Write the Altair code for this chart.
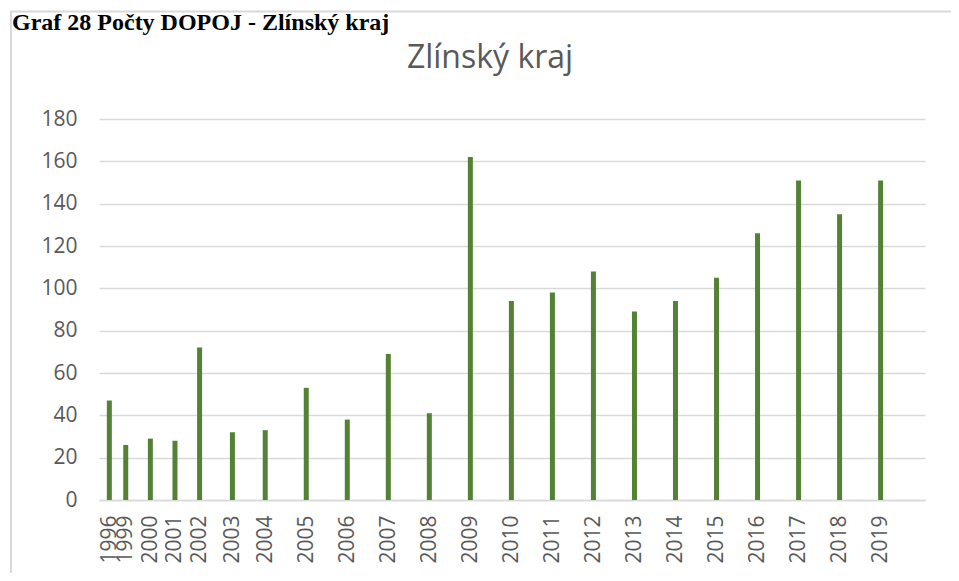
import altair as alt
import pandas as pd

# Data
years = ["1996", "1999", "2000", "2001", "2002", "2003", "2004", "2005", "2006",
         "2007", "2008", "2009", "2010", "2011", "2012", "2013", "2014", "2015",
         "2016", "2017", "2018", "2019"]
counts = [47, 26, 29, 28, 72, 32, 33, 53, 38, 69, 41, 162, 94, 98, 108, 89,
          94, 105, 126, 151, 135, 151]
# position of each category on the original (irregular) axis
slots = [0.2, 0.6, 1.2, 1.8, 2.4, 3.2, 4, 5, 6, 7, 8, 9, 10, 11, 12, 13, 14,
         15, 16, 17, 18, 19]
y_ticks = [0, 20, 40, 60, 80, 100, 120, 140, 160, 180]
chart_title = "Zlínský kraj"
doc_caption = "Graf 28 Počty DOPOJ - Zlínský kraj"

df = pd.DataFrame({"year": years, "count": counts, "slot": slots})

GRAY = "#595959"
GRID = "#d9d9d9"
FONT = "Open Sans"

label_expr = ("[" + ",".join("'" + y + "'" for y in years) + "][indexof(["
              + ",".join(str(s) for s in slots) + "], datum.value)]")

bars = alt.Chart(df).mark_bar(size=5, color="#548235").encode(
    x=alt.X("slot:Q",
            scale=alt.Scale(domain=[0.07, 19.96], nice=False, zero=False),
            axis=alt.Axis(values=slots, labelExpr=label_expr, labelAngle=-90,
                          labelOverlap=False, labelFlush=False, labelBound=False,
                          grid=False, ticks=False, domain=True, domainColor=GRID,
                          domainWidth=1.5, labelPadding=15, labelFont=FONT,
                          labelFontSize=21, labelColor=GRAY, title=None)),
    y=alt.Y("count:Q",
            scale=alt.Scale(domain=[0, 180], nice=False),
            axis=alt.Axis(values=y_ticks, grid=True, gridColor=GRID, gridWidth=1.5,
                          domain=False, ticks=False, labelPadding=22,
                          labelFont=FONT, labelFontSize=21, labelColor=GRAY,
                          title=None)),
)

frame = alt.Chart(pd.DataFrame({"k": [0]})).mark_rect(
    fill=None, stroke=GRID, strokeWidth=2
).encode(x=alt.value(-88), x2=alt.value(880), y=alt.value(-107.5), y2=alt.value(600))

title = alt.Chart(pd.DataFrame({"t": [chart_title]})).mark_text(
    font=FONT, fontSize=32, color=GRAY, align="center", baseline="alphabetic"
).encode(text="t:N", x=alt.value(391), y=alt.value(-51))

caption = alt.Chart(pd.DataFrame({"t": [doc_caption]})).mark_text(
    font="Liberation Serif", fontSize=24, fontWeight="bold", color="#000000",
    align="left", baseline="alphabetic"
).encode(text="t:N", x=alt.value(-87), y=alt.value(-89))

chart = alt.layer(frame, bars, title, caption).properties(
    width=826, height=381,
    autosize=alt.AutoSizeParams(type="none"),
    padding={"left": 91, "top": 111, "right": 26, "bottom": 73},
).configure_view(stroke=None)

chart.save("out.html", embed_options={"renderer": "svg", "actions": False})
